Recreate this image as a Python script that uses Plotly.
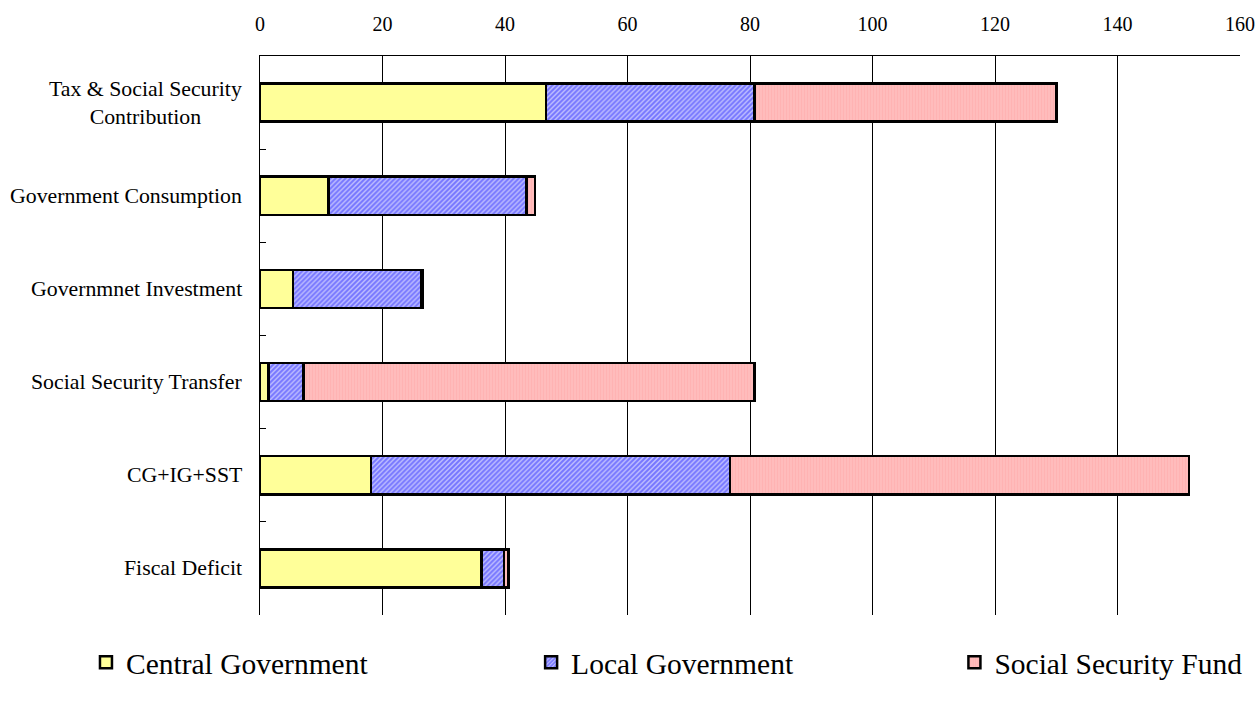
import plotly.graph_objects as go

# Categories, top to bottom
categories = [
    "Tax & Social Security<br>Contribution",
    "Government Consumption",
    "Governmnet Investment",
    "Social Security Transfer",
    "CG+IG+SST",
    "Fiscal Deficit",
]

# Contributions by sector
central_gov = [46.7, 11.2, 5.4, 1.4, 18.1, 36.2]
local_gov = [34.0, 32.3, 20.9, 5.7, 58.6, 3.6]
social_security_fund = [49.3, 1.4, 0.2, 73.6, 75.0, 0.8]

x_ticks = [0, 20, 40, 60, 80, 100, 120, 140, 160]

FONT = "Liberation Serif, Times New Roman, serif"
OUTLINE = dict(color="black", width=2.5)

fig = go.Figure()

fig.add_trace(go.Bar(
    y=categories, x=central_gov, orientation="h", name="Central Government",
    marker=dict(color="#ffff99", line=OUTLINE),
    legend="legend", showlegend=True,
))
fig.add_trace(go.Bar(
    y=categories, x=local_gov, orientation="h", name="Local Government",
    marker=dict(color="#c4c4ff", line=OUTLINE,
                pattern=dict(shape="/", fgcolor="#2626ff", size=3.5, solidity=0.6)),
    legend="legend2", showlegend=True,
))
fig.add_trace(go.Bar(
    y=categories, x=social_security_fund, orientation="h", name="Social Security Fund",
    marker=dict(color="#ffbcbc", line=OUTLINE,
                pattern=dict(shape="|", fgcolor="#ffa8a8", size=3, solidity=0.3)),
    legend="legend3", showlegend=True,
))

# Category labels, centred line by line and right-anchored at the axis
for cat in categories:
    fig.add_annotation(
        x=0, xref="paper", y=cat, yref="y", text=cat, showarrow=False,
        xanchor="right", yanchor="middle", align="center", xshift=-16,
        font=dict(family=FONT, size=21.8, color="black"),
    )

legend_common = dict(
    orientation="h", xref="container", yanchor="middle", y=-0.085, xanchor="left",
    font=dict(family=FONT, size=29.5, color="black"),
    bgcolor="rgba(0,0,0,0)", visible=True,
)

fig.update_layout(
    width=1255, height=704,
    showlegend=True,
    margin=dict(l=260, r=15, t=56, b=89, autoexpand=False),
    paper_bgcolor="white", plot_bgcolor="white",
    barmode="stack", bargap=0.59,
    font=dict(family=FONT, color="black"),
    legend=dict(x=0.0685, **legend_common),
    legend2=dict(x=0.4232, **legend_common),
    legend3=dict(x=0.7605, **legend_common),
    xaxis=dict(
        side="top", range=[0, 160], tickvals=x_ticks, automargin=False,
        showgrid=True, gridcolor="black", gridwidth=1,
        showline=True, linecolor="black", linewidth=1,
        zeroline=False, ticks="", ticklabelstandoff=16,
        tickfont=dict(family=FONT, size=20, color="black"),
    ),
    yaxis=dict(
        autorange="reversed", showticklabels=False, automargin=False,
        showline=True, linecolor="black", linewidth=1,
        ticks="inside", tickson="boundaries", ticklen=6, tickcolor="black",
        showgrid=False, zeroline=False,
    ),
)

fig.write_html("out.html")
